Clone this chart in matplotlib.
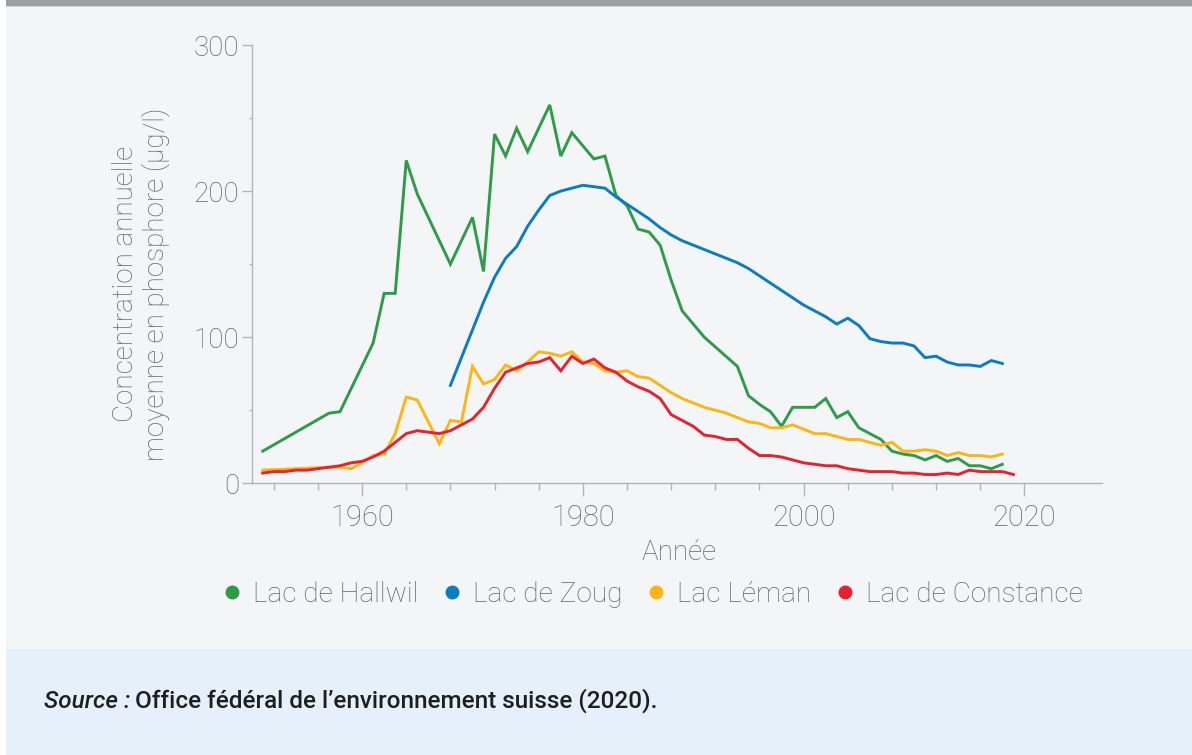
import matplotlib
matplotlib.use("Agg")
import matplotlib.pyplot as plt
from matplotlib.lines import Line2D
from matplotlib.patches import Rectangle

plt.rcParams['font.family'] = ['Roboto', 'DejaVu Sans']

# annual mean phosphorus concentration (ug/l)
hallwil_years = [1951, 1957, 1958, 1961, 1962, 1963, 1964, 1965, 1968, 1970,
                 1971, 1972, 1973, 1974, 1975, 1977, 1978, 1979, 1981, 1982,
                 1983, 1984, 1985, 1986, 1987, 1988, 1989, 1991, 1994, 1995,
                 1996, 1997, 1998, 1999, 2000, 2001, 2002, 2003, 2004, 2005,
                 2006, 2007, 2008, 2009, 2010, 2011, 2012, 2013, 2014, 2015,
                 2016, 2017, 2018]
hallwil = [22, 48, 49, 96, 130, 130, 221, 198, 150, 182,
           145, 239, 224, 243, 227, 259, 224, 240, 222, 224,
           197, 190, 174, 172, 163, 139, 118, 100, 80, 60,
           54, 49, 39, 52, 52, 52, 58, 45, 49, 38,
           34, 30, 22, 20, 19, 16, 19, 15, 17, 12,
           12, 10, 13]

zoug_years = list(range(1968, 2019))
zoug = [67, 86, 105, 124, 141, 154, 162, 176, 187, 197,
        200, 202, 204, 203, 202, 196, 191, 186, 181, 175,
        170, 166, 163, 160, 157, 154, 151, 147, 142, 137,
        132, 127, 122, 118, 114, 109, 113, 108, 99, 97,
        96, 96, 94, 86, 87, 83, 81, 81, 80, 84,
        82]

leman_years = [1951] + list(range(1957, 2019))
leman = [9, 11, 11, 10, 14, 19, 20, 34, 59, 57,
         42, 27, 43, 42, 80, 68, 71, 81, 77, 83,
         90, 89, 87, 90, 83, 82, 77, 76, 77, 73,
         72, 67, 62, 58, 55, 52, 50, 48, 45, 42,
         41, 38, 38, 40, 37, 34, 34, 32, 30, 30,
         28, 26, 28, 22, 22, 23, 22, 19, 21, 19,
         19, 18, 20]

constance_years = list(range(1951, 2020))
constance = [7, 8, 8, 9, 9, 10, 11, 12, 14, 15,
             18, 22, 28, 34, 36, 35, 34, 36, 40, 44,
             52, 65, 76, 79, 82, 83, 86, 77, 87, 82,
             85, 79, 76, 70, 66, 63, 58, 47, 43, 39,
             33, 32, 30, 30, 24, 19, 19, 18, 16, 14,
             13, 12, 12, 10, 9, 8, 8, 8, 7, 7,
             6, 6, 7, 6, 9, 8, 8, 8, 6]

names = ["Lac de Hallwil", "Lac de Zoug", "Lac Léman", "Lac de Constance"]
colors = ["#2e9b48", "#0b7cc1", "#fdb515", "#e8212f"]

text_col = "#646569"
axis_col = "#b3b4b8"

fig = plt.figure(figsize=(11.92, 7.55), dpi=100)
fig.patch.set_facecolor("#f4f5f7")

# frame decorations
fig.patches.append(Rectangle((0, 0), 6 / 1192, 1, transform=fig.transFigure,
                             facecolor="white", edgecolor="none", zorder=0))
fig.patches.append(Rectangle((6 / 1192, 1 - 6 / 755), 1, 6 / 755, transform=fig.transFigure,
                             facecolor="#9e9fa3", edgecolor="none", zorder=0))
fig.patches.append(Rectangle((6 / 1192, 1 - 7 / 755), 1, 1 / 755, transform=fig.transFigure,
                             facecolor="#c9d9ea", edgecolor="none", zorder=0))
fig.patches.append(Rectangle((6 / 1192, 0), 1, 106 / 755, transform=fig.transFigure,
                             facecolor="#e6f0fa", edgecolor="none", zorder=0))

ax = fig.add_axes([251.7 / 1192, 1 - 483.3 / 755, 850 / 1192, 438.3 / 755])
ax.set_facecolor("none")

series = [(hallwil_years, hallwil), (zoug_years, zoug),
          (leman_years, leman), (constance_years, constance)]
for (xs, ys), name, c in zip(series, names, colors):
    ax.plot(xs, ys, color=c, lw=2.1, label=name, solid_joinstyle='miter')

ax.set_xlim(1950, 2027)
ax.set_ylim(0, 300)

for s in ["top", "right"]:
    ax.spines[s].set_visible(False)
for s in ["left", "bottom"]:
    ax.spines[s].set_color(axis_col)
    ax.spines[s].set_linewidth(1.0)

ax.set_xticks([1960, 1980, 2000, 2020])
ax.set_xticks(list(range(1952, 2021, 4)), minor=True)
ax.set_yticks([0, 100, 200, 300])
ax.set_yticks([50, 150, 250], minor=True)

ax.tick_params(axis="x", which="major", length=9, width=1, color=axis_col,
               labelsize=21, labelcolor=text_col, pad=6)
ax.tick_params(axis="x", which="minor", length=4.7, width=1, color=axis_col)
ax.tick_params(axis="y", which="major", length=7.5, width=1, color=axis_col,
               labelsize=20, labelcolor=text_col, pad=1.5)
ax.tick_params(axis="y", which="minor", length=2.5, width=1, color=axis_col)
for lab in ax.get_xticklabels() + ax.get_yticklabels():
    lab.set_fontweight("light")

fig.text(141 / 1192, 1 - 284 / 755,
         "Concentration annuelle\nmoyenne en phosphore (µg/l)",
         rotation=90, ha="center", va="center", multialignment="center",
         fontsize=20, color=text_col, fontweight="light", linespacing=1.15)
fig.text(679 / 1192, 1 - 552 / 755, "Année", ha="center", va="center",
         fontsize=20, color=text_col, fontweight="light")

handles = [Line2D([], [], ls="none", marker="o", markersize=9,
                  markerfacecolor=c, markeredgecolor=c) for c in colors]
leg = fig.legend(handles, names, loc="center", bbox_to_anchor=(653 / 1192, 1 - 594 / 755),
                 ncol=4, frameon=False, handletextpad=0.45, columnspacing=0.9,
                 handlelength=0.6, prop={"size": 20.2, "weight": "light"})
for t in leg.get_texts():
    t.set_color(text_col)

# source line
src1 = fig.text(44 / 1192, 1 - 701 / 755, "Source :", style="italic",
                fontsize=17.5, fontweight="medium", color="#1e1e1e", ha="left", va="center")
fig.canvas.draw()
bb = src1.get_window_extent(renderer=fig.canvas.get_renderer())
fig.text(bb.x1 / 1192 + 5 / 1192, 1 - 701 / 755,
         "Office fédéral de l’environnement suisse (2020).",
         fontsize=17.5, fontweight="medium", color="#1e1e1e", ha="left", va="center")

fig.savefig("out.png", dpi=100, facecolor=fig.get_facecolor())
